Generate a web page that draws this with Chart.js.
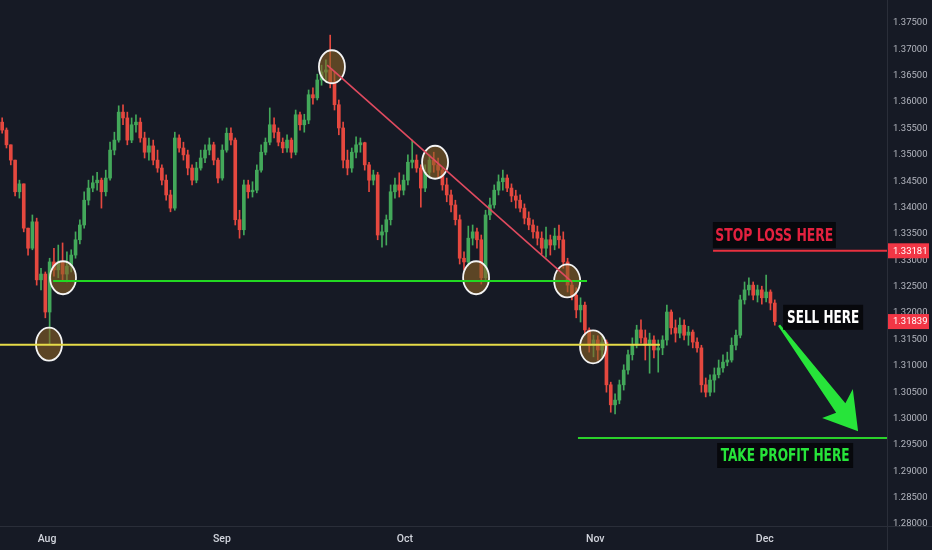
<!DOCTYPE html>
<html>
<head>
<meta charset="utf-8">
<script src="https://cdn.jsdelivr.net/npm/chart.js@4.4.1/dist/chart.umd.min.js"></script>
<style>
  html, body { margin: 0; padding: 0; background: #161a25; }
  #wrap { width: 932px; height: 550px; position: relative; }
</style>
</head>
<body>
<div id="wrap"><canvas id="chart"></canvas></div>
<script>
// Dữ liệu nến: giá mở của nến đầu, rồi đóng / cao / thấp
const firstOpen = 1.3562;
const closes = [
  1.3547, 1.3519, 1.3490, 1.3430, 1.3445, 1.3361, 1.3323, 1.3373, 1.3263, 1.3274,
  1.3202, 1.3297, 1.3282, 1.3297, 1.3274, 1.3289, 1.3310, 1.3339, 1.3367, 1.3414,
  1.3437, 1.3447, 1.3452, 1.3430, 1.3456, 1.3509, 1.3528, 1.3581, 1.3570, 1.3528,
  1.3557, 1.3562, 1.3532, 1.3505, 1.3517, 1.3490, 1.3475, 1.3452, 1.3424, 1.3399,
  1.3532, 1.3513, 1.3500, 1.3475, 1.3452, 1.3475, 1.3494, 1.3509, 1.3519, 1.3490,
  1.3456, 1.3509, 1.3541, 1.3528, 1.3377, 1.3358, 1.3443, 1.3430, 1.3433, 1.3471,
  1.3505, 1.3524, 1.3557, 1.3543, 1.3524, 1.3513, 1.3528, 1.3505, 1.3576, 1.3557,
  1.3566, 1.3614, 1.3608, 1.3642, 1.3657, 1.3661, 1.3638, 1.3595, 1.3551, 1.3490,
  1.3475, 1.3505, 1.3519, 1.3523, 1.3481, 1.3452, 1.3462, 1.3348, 1.3354, 1.3377,
  1.3430, 1.3443, 1.3433, 1.3452, 1.3486, 1.3490, 1.3475, 1.3437, 1.3467, 1.3490,
  1.3481, 1.3471, 1.3443, 1.3424, 1.3405, 1.3377, 1.3304, 1.3297, 1.3342, 1.3354,
  1.3339, 1.3267, 1.3386, 1.3405, 1.3433, 1.3449, 1.3456, 1.3437, 1.3422, 1.3414,
  1.3399, 1.3380, 1.3367, 1.3354, 1.3342, 1.3323, 1.3339, 1.3329, 1.3346, 1.3339,
  1.3297, 1.3253, 1.3234, 1.3206, 1.3215, 1.3168, 1.3139, 1.3149, 1.3130, 1.3145,
  1.3064, 1.3026, 1.3035, 1.3064, 1.3092, 1.3121, 1.3139, 1.3168, 1.3153, 1.3139,
  1.3149, 1.3130, 1.3134, 1.3149, 1.3202, 1.3172, 1.3162, 1.3177, 1.3158, 1.3164,
  1.3145, 1.3134, 1.3064, 1.3050, 1.3073, 1.3083, 1.3096, 1.3107, 1.3111, 1.3139,
  1.3158, 1.3225, 1.3244, 1.3253, 1.3234, 1.3244, 1.3229, 1.3240, 1.3219, 1.31839
];
const highs = [
  1.3570, 1.3551, 1.3519, 1.3490, 1.3452, 1.3424, 1.3361, 1.3386, 1.3380, 1.3285,
  1.3278, 1.3304, 1.3323, 1.3329, 1.3333, 1.3316, 1.3320, 1.3354, 1.3377, 1.3430,
  1.3452, 1.3460, 1.3467, 1.3456, 1.3471, 1.3524, 1.3543, 1.3593, 1.3595, 1.3581,
  1.3570, 1.3576, 1.3570, 1.3543, 1.3532, 1.3528, 1.3509, 1.3481, 1.3462, 1.3433,
  1.3543, 1.3538, 1.3524, 1.3509, 1.3481, 1.3486, 1.3509, 1.3519, 1.3532, 1.3524,
  1.3494, 1.3519, 1.3551, 1.3551, 1.3532, 1.3395, 1.3452, 1.3452, 1.3449, 1.3481,
  1.3519, 1.3532, 1.3589, 1.3570, 1.3551, 1.3532, 1.3538, 1.3532, 1.3585, 1.3581,
  1.3577, 1.3623, 1.3627, 1.3653, 1.3670, 1.3680, 1.3727, 1.3657, 1.3604, 1.3562,
  1.3509, 1.3513, 1.3534, 1.3532, 1.3524, 1.3486, 1.3471, 1.3467, 1.3367, 1.3386,
  1.3443, 1.3456, 1.3466, 1.3462, 1.3500, 1.3528, 1.3500, 1.3481, 1.3481, 1.3500,
  1.3505, 1.3494, 1.3475, 1.3456, 1.3433, 1.3414, 1.3386, 1.3316, 1.3365, 1.3367,
  1.3361, 1.3348, 1.3395, 1.3418, 1.3443, 1.3462, 1.3471, 1.3462, 1.3445, 1.3433,
  1.3424, 1.3407, 1.3392, 1.3377, 1.3365, 1.3354, 1.3363, 1.3348, 1.3361, 1.3367,
  1.3354, 1.3304, 1.3259, 1.3248, 1.3229, 1.3221, 1.3172, 1.3158, 1.3157, 1.3155,
  1.3149, 1.3069, 1.3047, 1.3073, 1.3102, 1.3130, 1.3153, 1.3177, 1.3187, 1.3168,
  1.3162, 1.3157, 1.3149, 1.3157, 1.3215, 1.3206, 1.3187, 1.3191, 1.3187, 1.3175,
  1.3168, 1.3153, 1.3139, 1.3077, 1.3083, 1.3096, 1.3111, 1.3121, 1.3126, 1.3153,
  1.3168, 1.3234, 1.3259, 1.3267, 1.3259, 1.3253, 1.3251, 1.3272, 1.3244, 1.3225
];
const lows = [
  1.3541, 1.3513, 1.3481, 1.3422, 1.3418, 1.3354, 1.3310, 1.3320, 1.3253, 1.3244,
  1.3191, 1.3141, 1.3270, 1.3267, 1.3263, 1.3259, 1.3278, 1.3304, 1.3331, 1.3361,
  1.3405, 1.3430, 1.3433, 1.3399, 1.3422, 1.3452, 1.3500, 1.3524, 1.3557, 1.3519,
  1.3523, 1.3543, 1.3524, 1.3494, 1.3490, 1.3481, 1.3467, 1.3443, 1.3414, 1.3392,
  1.3395, 1.3505, 1.3490, 1.3462, 1.3443, 1.3447, 1.3471, 1.3485, 1.3500, 1.3481,
  1.3447, 1.3452, 1.3505, 1.3519, 1.3367, 1.3342, 1.3348, 1.3418, 1.3420, 1.3428,
  1.3467, 1.3500, 1.3519, 1.3532, 1.3517, 1.3504, 1.3505, 1.3494, 1.3500, 1.3547,
  1.3543, 1.3559, 1.3596, 1.3604, 1.3632, 1.3638, 1.3627, 1.3585, 1.3538, 1.3475,
  1.3462, 1.3467, 1.3494, 1.3505, 1.3471, 1.3430, 1.3443, 1.3339, 1.3325, 1.3329,
  1.3367, 1.3418, 1.3420, 1.3424, 1.3443, 1.3475, 1.3467, 1.3401, 1.3430, 1.3460,
  1.3467, 1.3456, 1.3433, 1.3411, 1.3392, 1.3367, 1.3293, 1.3282, 1.3289, 1.3329,
  1.3323, 1.3255, 1.3263, 1.3377, 1.3399, 1.3424, 1.3433, 1.3430, 1.3411, 1.3399,
  1.3392, 1.3369, 1.3358, 1.3342, 1.3329, 1.3312, 1.3306, 1.3310, 1.3320, 1.3323,
  1.3285, 1.3240, 1.3225, 1.3191, 1.3183, 1.3158, 1.3126, 1.3117, 1.3111, 1.3115,
  1.3050, 1.3012, 1.3009, 1.3028, 1.3054, 1.3084, 1.3111, 1.3134, 1.3143, 1.3111,
  1.3086, 1.3115, 1.3088, 1.3121, 1.3139, 1.3160, 1.3145, 1.3153, 1.3149, 1.3139,
  1.3134, 1.3126, 1.3050, 1.3041, 1.3043, 1.3050, 1.3077, 1.3088, 1.3100, 1.3107,
  1.3130, 1.3153, 1.3217, 1.3234, 1.3225, 1.3221, 1.3217, 1.3221, 1.3206, 1.3177
];

// Nhãn trục
const monthLabels = ['Aug', 'Sep', 'Oct', 'Nov', 'Dec'];
const monthPos = [10.4, 50.9, 93.3, 137.4, 176.7];
const priceTicks = [1.280, 1.285, 1.290, 1.295, 1.300, 1.305, 1.310, 1.315, 1.320,
  1.325, 1.330, 1.335, 1.340, 1.345, 1.350, 1.355, 1.360, 1.365, 1.370, 1.375];

// Các mức vẽ tay (vị trí nến, giá)
const stopLoss = 1.33181;
const takeProfit = 1.2963;
const greenLevel = 1.3261;
const yellowLevel = 1.3140;
const trendLine = [[75.3, 1.3670], [132.0, 1.3259]];
const circlePoints = [[10.85, 1.3141], [14.1, 1.3267], [76.4, 1.3667], [100.3, 1.3486],
  [109.8, 1.3267], [130.9, 1.3261], [136.9, 1.3136]];
const arrowPoints = [[180.0, 1.3177], [198.3, 1.2976]];
const noteTexts = ['STOP LOSS HERE', 'SELL HERE', 'TAKE PROFIT HERE'];
const notePoints = [[178.9, 1.3348], [190.2, 1.3192], [181.4, 1.2930]];

const UP = '#43a85a';
const DOWN = '#e5483f';
const BG = '#161a25';

const opens = closes.map((c, i) => i === 0 ? firstOpen : closes[i - 1]);
const colorOf = i => closes[i] >= opens[i] ? UP : DOWN;
const bodyData = closes.map((c, i) => ({ x: i, y: [opens[i], c] }));
const wickData = closes.map((c, i) => ({
  x: i,
  y: [Math.min(lows[i], opens[i], c), Math.max(highs[i], opens[i], c)]
}));

// Kiểu của các ghi chú
const noteStyles = [
  { color: '#e3213f', w: 123, h: 26, textW: 118 },
  { color: '#ffffff', w: 80, h: 25, textW: 72 },
  { color: '#27e43a', w: 136, h: 25, textW: 129 }
];

const overlay = {
  id: 'overlay',
  beforeDraw(chart) {
    const ctx = chart.ctx;
    ctx.save();
    ctx.fillStyle = BG;
    ctx.fillRect(0, 0, chart.width, chart.height);
    ctx.restore();
  },
  afterDatasetsDraw(chart) {
    const { ctx, chartArea: area, scales: { x, y } } = chart;
    ctx.save();

    // vòng tròn đánh dấu
    circlePoints.forEach(([i, p]) => {
      ctx.beginPath();
      ctx.ellipse(x.getPixelForValue(i), y.getPixelForValue(p), 13, 16.5, 0, 0, Math.PI * 2);
      ctx.fillStyle = 'rgba(140, 98, 38, 0.6)';
      ctx.fill();
      ctx.lineWidth = 1.8;
      ctx.strokeStyle = '#f4f4f4';
      ctx.stroke();
    });

    const hLine = (price, from, to, color) => {
      const py = y.getPixelForValue(price);
      ctx.beginPath();
      ctx.moveTo(x.getPixelForValue(from), py);
      ctx.lineTo(to === null ? area.right : x.getPixelForValue(to), py);
      ctx.strokeStyle = color;
      ctx.lineWidth = 2;
      ctx.stroke();
    };
    hLine(yellowLevel, -0.5, 152.4, '#e6dc48');
    hLine(greenLevel, 11.8, 135.5, '#22d822');
    hLine(stopLoss, 164.7, null, '#e8313f');
    hLine(takeProfit, 133.4, null, '#2bd12b');

    // đường xu hướng
    ctx.beginPath();
    ctx.moveTo(x.getPixelForValue(trendLine[0][0]), y.getPixelForValue(trendLine[0][1]));
    ctx.lineTo(x.getPixelForValue(trendLine[1][0]), y.getPixelForValue(trendLine[1][1]));
    ctx.strokeStyle = '#e04a5f';
    ctx.lineWidth = 1.6;
    ctx.stroke();

    // mũi tên xanh
    const ax = x.getPixelForValue(arrowPoints[0][0]), ay = y.getPixelForValue(arrowPoints[0][1]);
    const bx = x.getPixelForValue(arrowPoints[1][0]), by = y.getPixelForValue(arrowPoints[1][1]);
    const len = Math.hypot(bx - ax, by - ay);
    ctx.save();
    ctx.translate(ax, ay);
    ctx.rotate(Math.atan2(by - ay, bx - ax));
    ctx.beginPath();
    ctx.moveTo(0, -1.2);
    ctx.lineTo(len - 30, -6.5);
    ctx.lineTo(len - 37, -21);
    ctx.lineTo(len, 0);
    ctx.lineTo(len - 32, 21);
    ctx.lineTo(len - 28, 6.5);
    ctx.lineTo(0, 1.2);
    ctx.closePath();
    ctx.fillStyle = '#27e43a';
    ctx.fill();
    ctx.restore();

    // hộp chữ
    noteTexts.forEach((t, k) => {
      const s = noteStyles[k];
      const cx = x.getPixelForValue(notePoints[k][0]);
      const cy = y.getPixelForValue(notePoints[k][1]);
      ctx.fillStyle = '#07080c';
      ctx.fillRect(cx - s.w / 2, cy - s.h / 2, s.w, s.h);
      ctx.font = 'bold 18px "Liberation Sans Narrow", "DejaVu Sans Condensed", Roboto, sans-serif';
      const mw = ctx.measureText(t).width;
      ctx.save();
      ctx.translate(cx, cy + 1);
      ctx.scale(s.textW / mw, 1);
      ctx.fillStyle = s.color;
      ctx.textAlign = 'center';
      ctx.textBaseline = 'middle';
      ctx.fillText(t, 0, 0);
      ctx.restore();
    });
    ctx.restore();
  },
  afterDraw(chart) {
    const { ctx, chartArea: area, scales: { y } } = chart;
    ctx.save();
    ctx.strokeStyle = '#2a2e39';
    ctx.lineWidth = 1;
    ctx.beginPath();
    ctx.moveTo(area.right + 0.5, 0);
    ctx.lineTo(area.right + 0.5, chart.height);
    ctx.moveTo(0, area.bottom + 0.5);
    ctx.lineTo(chart.width, area.bottom + 0.5);
    ctx.stroke();

    // nhãn giá trên trục
    [stopLoss, closes[closes.length - 1]].forEach(p => {
      const py = y.getPixelForValue(p);
      ctx.fillStyle = '#f23645';
      ctx.fillRect(area.right + 1, py - 7.5, 41, 15);
      ctx.fillStyle = '#ffffff';
      ctx.font = '9.5px Roboto, sans-serif';
      ctx.textAlign = 'left';
      ctx.textBaseline = 'middle';
      ctx.fillText(p.toFixed(5), area.right + 6, py + 0.5);
    });
    ctx.restore();
  }
};

const ctx = document.getElementById('chart').getContext('2d');
new Chart(ctx, {
  type: 'bar',
  data: {
    datasets: [
      {
        label: 'wick',
        data: wickData,
        backgroundColor: c => colorOf(c.dataIndex),
        barThickness: 1,
        grouped: false,
        order: 2
      },
      {
        label: 'body',
        data: bodyData,
        backgroundColor: c => colorOf(c.dataIndex),
        barThickness: 3,
        minBarLength: 1,
        grouped: false,
        order: 1
      }
    ]
  },
  options: {
    animation: false,
    responsive: true,
    maintainAspectRatio: false,
    layout: { padding: 0 },
    plugins: { legend: { display: false }, tooltip: { enabled: false } },
    scales: {
      x: {
        type: 'linear',
        min: -0.5,
        max: 205,
        offset: false,
        grid: { display: false, drawTicks: false },
        border: { display: false },
        ticks: {
          color: '#d1d4dc',
          font: { family: 'Roboto', size: 10.5, weight: '500' },
          padding: 7,
          maxRotation: 0,
          autoSkip: false,
          callback: (v, idx) => monthLabels[idx]
        },
        afterBuildTicks: s => { s.ticks = monthPos.map(v => ({ value: v })); },
        afterFit: s => { s.height = 24; s.paddingLeft = 0; s.paddingRight = 0; }
      },
      y: {
        position: 'right',
        min: 1.27963,
        max: 1.37936,
        grid: { display: false, drawTicks: false },
        border: { display: false },
        ticks: {
          color: '#b2b5be',
          font: { family: 'Roboto', size: 9.5 },
          padding: 6,
          callback: v => v.toFixed(5)
        },
        afterBuildTicks: s => { s.ticks = priceTicks.map(v => ({ value: v })); },
        afterFit: s => { s.width = 45; s.paddingTop = 0; s.paddingBottom = 0; }
      }
    }
  },
  plugins: [overlay]
});
</script>
</body>
</html>
